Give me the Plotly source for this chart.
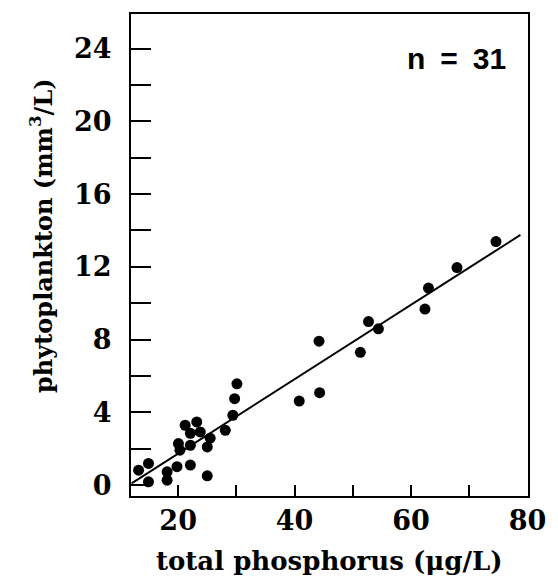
import numpy as np
import plotly.graph_objects as go

# Data
total_phosphorus = [30.1, 29.7, 29.4, 28.1, 25.5, 25.0, 25.0, 23.2, 21.2, 22.1,
                    23.8, 20.05, 22.1, 20.3, 22.1, 19.8, 18.1, 18.1, 14.9, 13.2,
                    14.9, 44.2, 44.3, 40.8, 51.3, 52.7, 54.4, 62.4, 63.0, 67.9, 74.6]
phytoplankton = [5.57, 4.75, 3.84, 3.01, 2.58, 2.10, 0.51, 3.47, 3.29, 2.85,
                 2.92, 2.28, 2.19, 1.92, 1.10, 1.01, 0.73, 0.27, 1.19, 0.82,
                 0.18, 7.91, 5.08, 4.62, 7.30, 8.99, 8.59, 9.68, 10.83, 11.96, 13.39]

# Regression line
fit_slope = 0.2045
fit_intercept = -2.36
fit_x_ends = [12.0, 78.8]

x_ticks = [20, 40, 60, 80]
y_ticks = [0, 4, 8, 12, 16, 20, 24]

fit_x = np.array(fit_x_ends)
fit_y = fit_slope * fit_x + fit_intercept

serif = "DejaVu Serif"

fig = go.Figure()
fig.add_trace(go.Scatter(x=fit_x, y=fit_y, mode="lines",
                         line=dict(color="black", width=2), showlegend=False,
                         hoverinfo="skip"))
fig.add_trace(go.Scatter(x=total_phosphorus, y=phytoplankton, mode="markers",
                         marker=dict(color="black", size=11), showlegend=False))

axis_common = dict(showgrid=False, zeroline=False, showline=True, linecolor="black",
                   linewidth=2, mirror=True, ticks="inside", tickcolor="black",
                   tickwidth=1.5,
                   tickfont=dict(family=serif, size=27, color="black", weight="bold"))

fig.update_xaxes(range=[11.9, 80.1], tickvals=x_ticks, ticktext=[str(v) for v in x_ticks],
                 ticklen=11, ticklabelstandoff=0,
                 minor=dict(dtick=10, tick0=0, ticks="inside", ticklen=11,
                            tickcolor="black", tickwidth=1.5),
                 **axis_common)
fig.update_yaxes(range=[-0.6, 25.9], tickvals=y_ticks, ticktext=[str(v) for v in y_ticks],
                 ticklen=20, ticklabelstandoff=12,
                 minor=dict(dtick=2, tick0=0, ticks="inside", ticklen=20,
                            tickcolor="black", tickwidth=1.5),
                 **axis_common)

# The page body adds an 8px offset, so the figure is 8px smaller and margins shifted.
fig.update_layout(
    width=550, height=571,
    margin=dict(l=123, r=30, t=4, b=83),
    plot_bgcolor="white", paper_bgcolor="white",
    annotations=[
        dict(text="phytoplankton (mm<sup>3</sup>/L)", xref="paper", yref="paper",
             x=-0.225, y=0.541, xanchor="center", yanchor="middle", textangle=-90,
             showarrow=False, font=dict(family=serif, size=24, color="black", weight="bold")),
        dict(text="total phosphorus (μg/L)", xref="paper", yref="paper",
             x=0.5, y=-0.134, xanchor="center", yanchor="middle",
             showarrow=False, font=dict(family=serif, size=26, color="black", weight="bold")),
        dict(text="n\u2002=\u200231", xref="paper", yref="paper",
             x=0.95, y=0.907, xanchor="right", yanchor="middle",
             showarrow=False, font=dict(family="Liberation Sans", size=30, color="black", weight="bold")),
    ],
)

fig.write_html("out.html")
